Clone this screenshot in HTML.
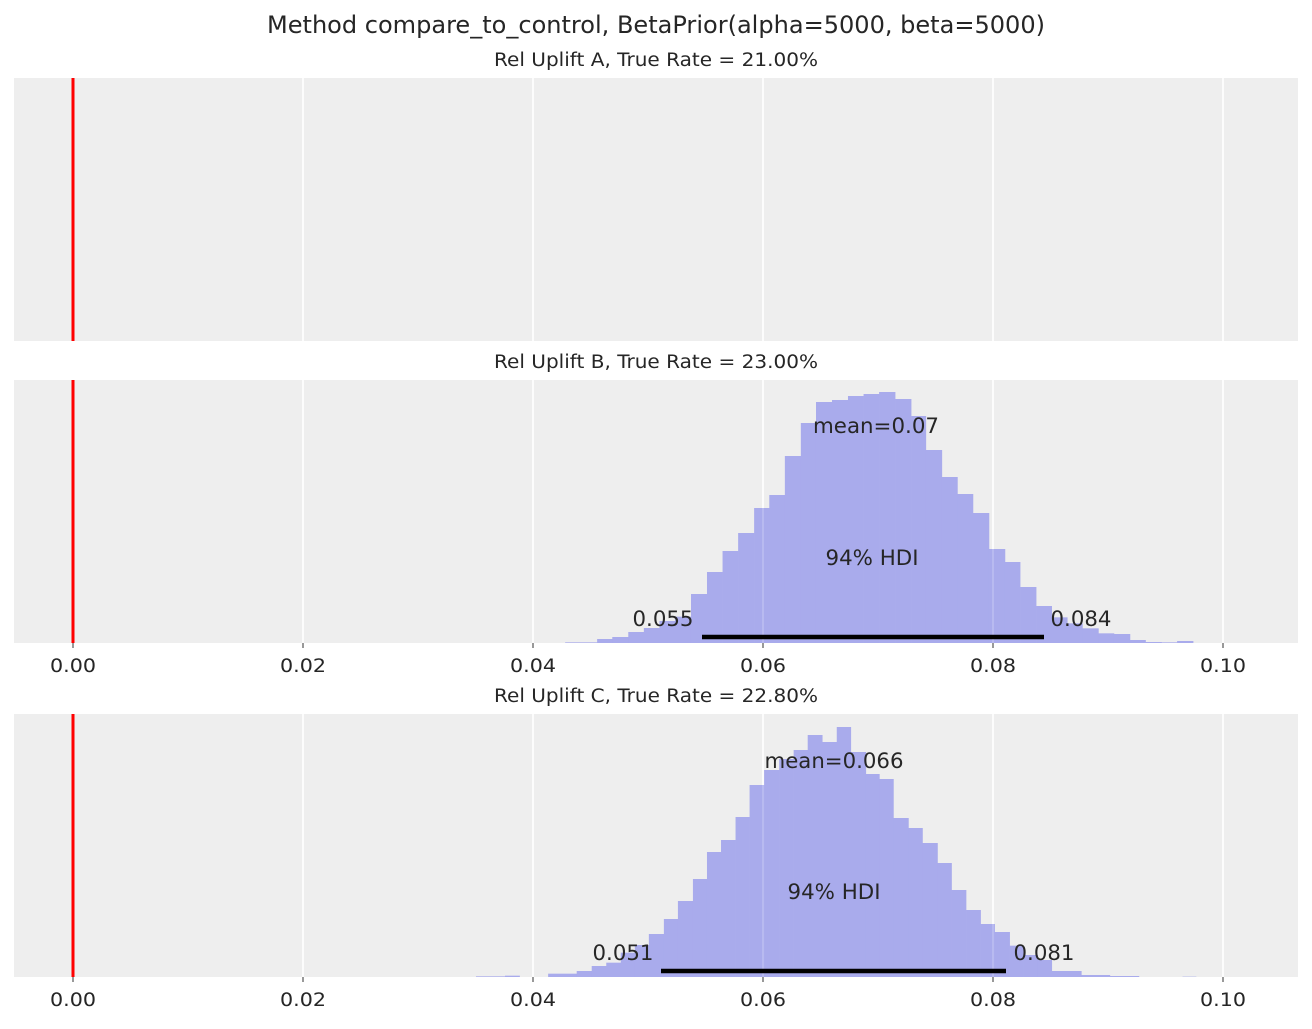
<!DOCTYPE html>
<html><head><meta charset="utf-8"><style>
body{margin:0;background:#fff;}
svg text{font-family:"DejaVu Sans","Liberation Sans",sans-serif;fill:#262626;}
</style></head><body>
<svg id="s" width="1312" height="1024" xmlns="http://www.w3.org/2000/svg">
<text x="656" y="33" font-size="24" text-anchor="middle" textLength="778" lengthAdjust="spacingAndGlyphs">Method compare_to_control, BetaPrior(alpha=5000, beta=5000)</text>
<text x="656" y="66" font-size="18.5" text-anchor="middle" textLength="324" lengthAdjust="spacingAndGlyphs">Rel Uplift A, True Rate = 21.00%</text>
<text x="656" y="368" font-size="18.5" text-anchor="middle" textLength="324" lengthAdjust="spacingAndGlyphs">Rel Uplift B, True Rate = 23.00%</text>
<text x="656" y="702" font-size="18.5" text-anchor="middle" textLength="324" lengthAdjust="spacingAndGlyphs">Rel Uplift C, True Rate = 22.80%</text>
<g id="p"></g>
</svg>
<script>
var NS="http://www.w3.org/2000/svg",g=document.getElementById('p');
function el(t,a,txt){var e=document.createElementNS(NS,t);for(var k in a)e.setAttribute(k,a[k]);if(txt!==undefined)e.textContent=txt;g.appendChild(e);return e;}
var panels=[[78,341],[380,643],[714,977]];
var xs=[73,303,533,763,993,1223],lab=["0.00","0.02","0.04","0.06","0.08","0.10"];
panels.forEach(function(p){el('rect',{x:14,y:p[0],width:1284,height:p[1]-p[0],fill:'#eeeeee'});});
function bars(ox,oy,sx,edges,tops){
  for(var i=0;i<tops.length;i++){
    var x0=ox+edges[i]/sx,x1=ox+edges[i+1]/sx,y=oy+tops[i]/3;
    el('rect',{x:x0,y:y,width:x1-x0+0.3,height:oy+263-y,fill:'#a9abec'});
  }
}
var eB=[36,112,148,186,223,260,297,335,373,410,447,485,521,558,596,632,670,708,745,782,820,858,893,931,968,1005,1043,1081,1117,1155,1192,1229,1265,1303,1340,1378,1415,1453,1490,1528];
var tB=[787,777,771,756,744,723,710,642,576,513,459,384,345,228,129,66,60,48,42,36,57,108,210,291,342,399,507,546,621,678,712,730,745,760,762,780,786,787,783];
var eC=[33,93,123,153,182,241,272,302,332,361,390,421,450,481,510,539,569,598,628,659,689,718,748,778,807,838,866,895,926,955,986,1015,1045,1075,1104,1135,1164,1193,1222,1283,1342,1402,1462,1492,1520];
var tC=[787,785,789,789,779,771,756,746,716,693,660,615,561,495,414,378,309,213,168,135,108,63,84,39,114,180,195,312,342,387,447,528,588,630,654,695,723,738,771,783,786,789,789,788];
panels.forEach(function(p){xs.forEach(function(x){el('line',{x1:x,x2:x,y1:p[0],y2:p[1],stroke:'#fff','stroke-width':1.6});});});
bars(550,380,2.376,eB,tB);
bars(460,714,2.065,eC,tC);
[[380,643],[714,977]].forEach(function(p){xs.forEach(function(x){el('line',{x1:x,x2:x,y1:p[0],y2:p[1],stroke:'#fff','stroke-width':1.2,'stroke-opacity':0.3});});});
panels.forEach(function(p){el('line',{x1:73,x2:73,y1:p[0],y2:p[1],stroke:'#ff0000','stroke-width':3});});
el('line',{x1:702,x2:1044,y1:637,y2:637,stroke:'#000','stroke-width':4.5});
el('line',{x1:661,x2:1006,y1:971,y2:971,stroke:'#000','stroke-width':4.5});
function t(x,y,s,w){el('text',{x:x,y:y,'font-size':21.5,'text-anchor':'middle',textLength:w,lengthAdjust:'spacingAndGlyphs'},s);}
t(876,433,'mean=0.07',126);t(872,565,'94% HDI',93);t(663,626,'0.055',61);t(1081,626,'0.084',61);
t(834,768,'mean=0.066',139);t(834,899,'94% HDI',93);t(623,960,'0.051',61);t(1044,960,'0.081',61);
[643,977].forEach(function(b){xs.forEach(function(x,i){el('line',{x1:x,x2:x,y1:b,y2:b+5,stroke:'#555','stroke-width':1.2});el('text',{x:x,y:b+29,'font-size':18.5,'text-anchor':'middle',textLength:46,lengthAdjust:'spacingAndGlyphs'},lab[i]);});});
</script>
</body></html>
